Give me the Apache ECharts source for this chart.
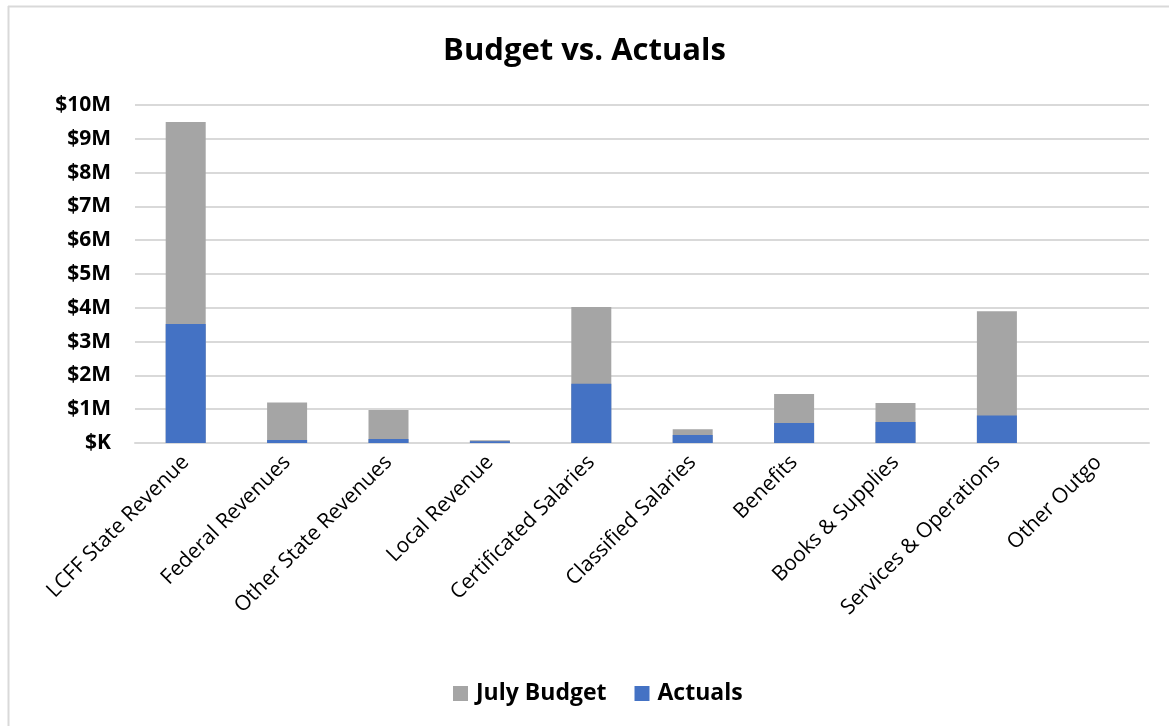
<!DOCTYPE html>
<html>
<head>
<meta charset="utf-8">
<script src="https://cdn.jsdelivr.net/npm/echarts@6/dist/echarts.min.js"></script>
<style>
html,body{margin:0;padding:0;background:#fff;}
#chart{width:1169px;height:726px;}
</style>
</head>
<body>
<div id="chart"></div>
<script>
var categories = ["LCFF State Revenue","Federal Revenues","Other State Revenues","Local Revenue","Certificated Salaries","Classified Salaries","Benefits","Books & Supplies","Services & Operations","Other Outgo"];
var julyBudget = [9500000,1200000,980000,80000,4020000,410000,1450000,1180000,3900000,0];
var actuals = [3520000,90000,120000,50000,1750000,240000,590000,620000,810000,0];
var seriesNames = ["July Budget","Actuals"];

var chart = echarts.init(document.getElementById('chart'), null, {renderer:'canvas'});
var font = "'Open Sans', 'Liberation Sans', sans-serif";
chart.setOption({
  animation:false,
  backgroundColor:'#fff',
  graphic:[
    {type:'line', shape:{x1:8,y1:6.5,x2:1169,y2:6.5}, style:{stroke:'#d9d9d9',lineWidth:2}},
    {type:'line', shape:{x1:8.5,y1:6,x2:8.5,y2:726}, style:{stroke:'#d9d9d9',lineWidth:2}}
  ],
  title:{text:'Budget vs. Actuals', left:'center', top:31,
    textStyle:{fontFamily:font, fontSize:31, fontWeight:'bold', color:'#000'}},
  legend:{bottom:16, left:448, itemWidth:15, itemHeight:15, itemGap:28,
    icon:'rect',
    textStyle:{fontFamily:font, fontSize:23, fontWeight:'bold', color:'#000', padding:[0,0,0,3]},
    data:seriesNames},
  grid:{left:135, right:20, top:105, bottom:283},
  xAxis:{type:'category', data:categories,
    axisLine:{lineStyle:{color:'#d9d9d9', width:2}},
    axisTick:{show:false},
    axisLabel:{rotate:45, interval:0, fontFamily:font, fontSize:21, color:'#000', margin:16}},
  yAxis:{type:'value', min:0, max:10000000, interval:1000000,
    axisLine:{show:false}, axisTick:{show:false},
    splitLine:{lineStyle:{color:'#d9d9d9', width:2}},
    axisLabel:{fontFamily:font, fontSize:21, fontWeight:'bold', color:'#000', margin:24,
      formatter:function(v){return v===0?'$K':'$'+(v/1000000)+'M';}}},
  series:[
    {name:seriesNames[0], type:'bar', data:julyBudget, barWidth:40, barGap:'-100%',
      itemStyle:{color:'#a5a5a5'}},
    {name:seriesNames[1], type:'bar', data:actuals, barWidth:40,
      itemStyle:{color:'#4472c4'}}
  ]
});
</script>
</body>
</html>
